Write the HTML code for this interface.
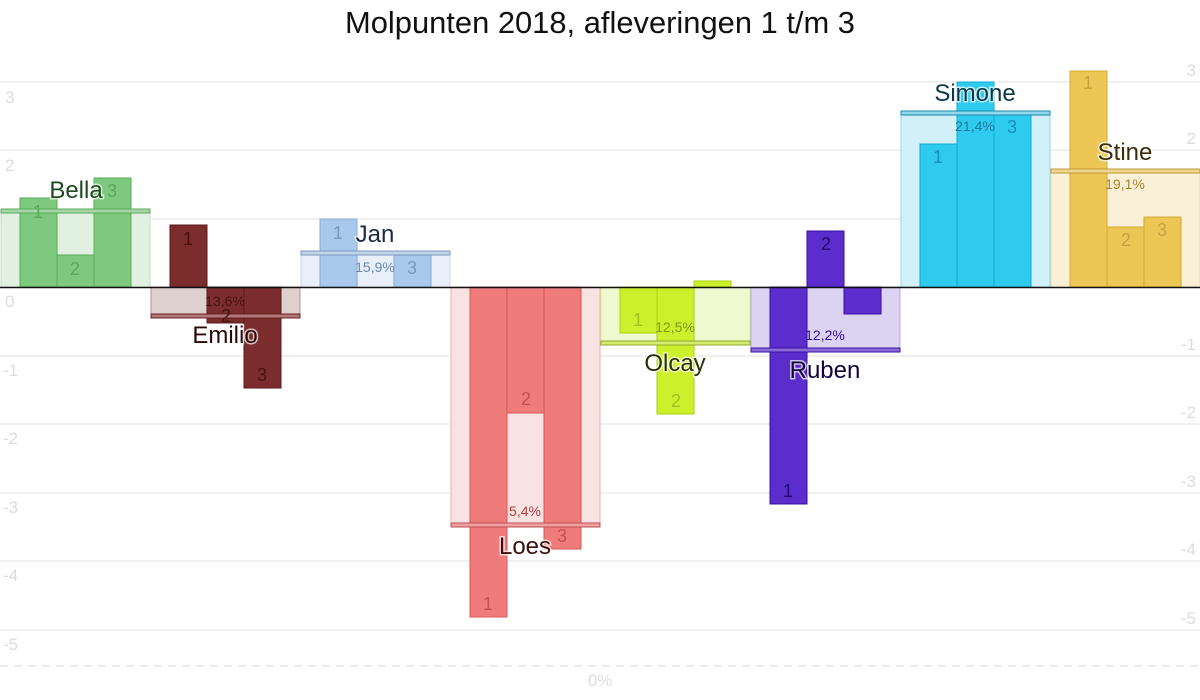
<!DOCTYPE html>
<html><head><meta charset="utf-8"><style>
html,body{margin:0;padding:0;background:#fff}
svg{display:block;font-family:"Liberation Sans Narrow","Liberation Sans",sans-serif}
.ax{fill:#dcdcdc;font-size:17px}
.nm{font-size:24px;paint-order:stroke;stroke:#fff;stroke-width:3px;stroke-opacity:.7}
.pc{font-size:14px}
.bn{font-size:18px;text-anchor:middle}
</style></head><body>
<svg width="1200" height="700" viewBox="0 0 1200 700">
<text x="600" y="33" text-anchor="middle" font-size="31" fill="#111" textLength="510" lengthAdjust="spacingAndGlyphs">Molpunten 2018, afleveringen 1 t/m 3</text>
<g stroke="#e2e2e2" stroke-width="1">
<line x1="0" y1="82" x2="1200" y2="82"/><line x1="0" y1="150" x2="1200" y2="150"/><line x1="0" y1="219" x2="1200" y2="219"/>
<line x1="0" y1="356" x2="1200" y2="356"/><line x1="0" y1="424" x2="1200" y2="424"/><line x1="0" y1="493" x2="1200" y2="493"/>
<line x1="0" y1="561" x2="1200" y2="561"/><line x1="0" y1="630" x2="1200" y2="630"/>
</g>
<line x1="0" y1="666" x2="1200" y2="666" stroke="#d6d6d6" stroke-dasharray="8,6"/>
<text x="600" y="686" text-anchor="middle" class="ax">0%</text>
<g class="ax">
<text x="5" y="103">3</text><text x="5" y="171">2</text><text x="5" y="239">1</text><text x="5" y="307">0</text>
<text x="3" y="376">-1</text><text x="3" y="444">-2</text><text x="3" y="513">-3</text><text x="3" y="581">-4</text><text x="3" y="650">-5</text>
</g>
<g class="ax" text-anchor="end">
<text x="1196" y="76">3</text><text x="1196" y="144">2</text><text x="1196" y="212">1</text><text x="1196" y="281">0</text>
<text x="1196" y="350">-1</text><text x="1196" y="418">-2</text><text x="1196" y="487">-3</text><text x="1196" y="555">-4</text><text x="1196" y="624">-5</text>
</g>

<!-- Bella -->
<rect x="1" y="211" width="149" height="76" fill="#e2f0e2" stroke="#c5e0c5"/>
<g fill="#7dc97d" stroke="#5aaa5a">
<rect x="20" y="198" width="37" height="89"/><rect x="57" y="255" width="37" height="32"/><rect x="94" y="178" width="37" height="109"/></g>
<rect x="1" y="209" width="149" height="4" fill="#a6d6a6" stroke="#5aaa5a"/>
<g class="bn" fill="#5aaa5a"><text x="38" y="218">1</text><text x="75" y="275">2</text><text x="112" y="197">3</text></g>
<text x="76" y="198" text-anchor="middle" class="nm" fill="#1e4a1e">Bella</text>

<!-- Emilio -->
<rect x="151" y="287" width="149" height="29" fill="#dfd0d0" stroke="#b89090"/>
<g fill="#7b2d2d" stroke="#5a1a1a">
<rect x="170" y="225" width="37" height="62"/><rect x="207" y="287" width="37" height="36"/><rect x="244" y="287" width="37" height="101"/></g>
<rect x="151" y="314" width="149" height="4" fill="#b07878" stroke="#6a2020"/>
<g class="bn" fill="#4a1010"><text x="188" y="245">1</text><text x="226" y="322">2</text><text x="262" y="381">3</text></g>
<text x="225" y="306" text-anchor="middle" class="pc" fill="#4a1010">13,6%</text>
<text x="225" y="343" text-anchor="middle" class="nm" fill="#2a0808">Emilio</text>

<!-- Jan -->
<rect x="301" y="254" width="149" height="33" fill="#e8eff8" stroke="#c8d8ea"/>
<g fill="#a8c8ec" stroke="#88acd8">
<rect x="320" y="219" width="37" height="68"/><rect x="394" y="255" width="37" height="32"/></g>
<rect x="301" y="251" width="149" height="4" fill="#c0d4ea" stroke="#7c98bc"/>
<g class="bn" fill="#7c98bc"><text x="338" y="239">1</text><text x="412" y="274">3</text></g>
<text x="375" y="272" text-anchor="middle" class="pc" fill="#6a86aa">15,9%</text>
<text x="375" y="242" text-anchor="middle" class="nm" fill="#1a2a44">Jan</text>

<!-- Loes -->
<rect x="451" y="287" width="149" height="238" fill="#f8e2e2" stroke="#eab0b0"/>
<g fill="#ef7b7b" stroke="#d85a5a">
<rect x="470" y="287" width="37" height="330"/><rect x="507" y="287" width="37" height="126"/><rect x="544" y="287" width="37" height="262"/></g>
<rect x="451" y="523" width="149" height="4" fill="#f0a0a0" stroke="#b85050"/>
<g class="bn" fill="#c85050"><text x="488" y="610">1</text><text x="526" y="405">2</text><text x="562" y="542">3</text></g>
<text x="525" y="516" text-anchor="middle" class="pc" fill="#b04040">5,4%</text>
<text x="525" y="554" text-anchor="middle" class="nm" fill="#3a0f0f">Loes</text>

<!-- Olcay -->
<rect x="601" y="287" width="149" height="56" fill="#f0f8d0" stroke="#d8ec98"/>
<g fill="#ccf02c" stroke="#a8d010">
<rect x="620" y="287" width="37" height="46"/><rect x="657" y="287" width="37" height="127"/><rect x="694" y="281" width="37" height="6"/></g>
<rect x="601" y="341" width="149" height="4" fill="#d4ec70" stroke="#90a830"/>
<g class="bn" fill="#a0c020"><text x="638" y="326">1</text><text x="676" y="407">2</text></g>
<text x="675" y="332" text-anchor="middle" class="pc" fill="#809818">12,5%</text>
<text x="675" y="371" text-anchor="middle" class="nm" fill="#2a3008">Olcay</text>

<!-- Ruben -->
<rect x="751" y="287" width="149" height="63" fill="#dcd2f2" stroke="#b8a8e0"/>
<g fill="#5a2dcc" stroke="#3a10a0">
<rect x="770" y="287" width="37" height="217"/><rect x="807" y="231" width="37" height="56"/><rect x="844" y="287" width="37" height="27"/></g>
<rect x="751" y="348" width="149" height="4" fill="#8a6ad8" stroke="#3a10a0"/>
<g class="bn" fill="#200870"><text x="788" y="497">1</text><text x="826" y="250">2</text></g>
<text x="825" y="340" text-anchor="middle" class="pc" fill="#300c90">12,2%</text>
<text x="825" y="378" text-anchor="middle" class="nm" fill="#10043a">Ruben</text>

<!-- Simone -->
<rect x="901" y="114" width="149" height="173" fill="#d2f0f8" stroke="#90d8ec"/>
<g fill="#2ecbef" stroke="#10a8d0">
<rect x="920" y="144" width="37" height="143"/><rect x="957" y="82" width="37" height="205"/><rect x="994" y="115" width="37" height="172"/></g>
<rect x="901" y="111" width="149" height="4" fill="#90d8ec" stroke="#1a88a8"/>
<g class="bn" fill="#1890b8"><text x="938" y="163">1</text><text x="1012" y="133">3</text></g>
<text x="975" y="131" text-anchor="middle" class="pc" fill="#1a7898">21,4%</text>
<text x="975" y="101" text-anchor="middle" class="nm" fill="#0a3848">Simone</text>

<!-- Stine -->
<rect x="1051" y="172" width="149" height="115" fill="#faf0d8" stroke="#eedcae"/>
<g fill="#edc755" stroke="#d8aa30">
<rect x="1070" y="71" width="37" height="216"/><rect x="1107" y="227" width="37" height="60"/><rect x="1144" y="217" width="37" height="70"/></g>
<rect x="1051" y="169" width="149" height="4" fill="#f0d690" stroke="#c09838"/>
<g class="bn" fill="#c8a040"><text x="1088" y="89">1</text><text x="1126" y="246">2</text><text x="1162" y="236">3</text></g>
<text x="1125" y="189" text-anchor="middle" class="pc" fill="#a88428">19,1%</text>
<text x="1125" y="160" text-anchor="middle" class="nm" fill="#3a2e08">Stine</text>

<line x1="0" y1="287.5" x2="1200" y2="287.5" stroke="#111" stroke-width="1.5"/>
</svg>
</body></html>
